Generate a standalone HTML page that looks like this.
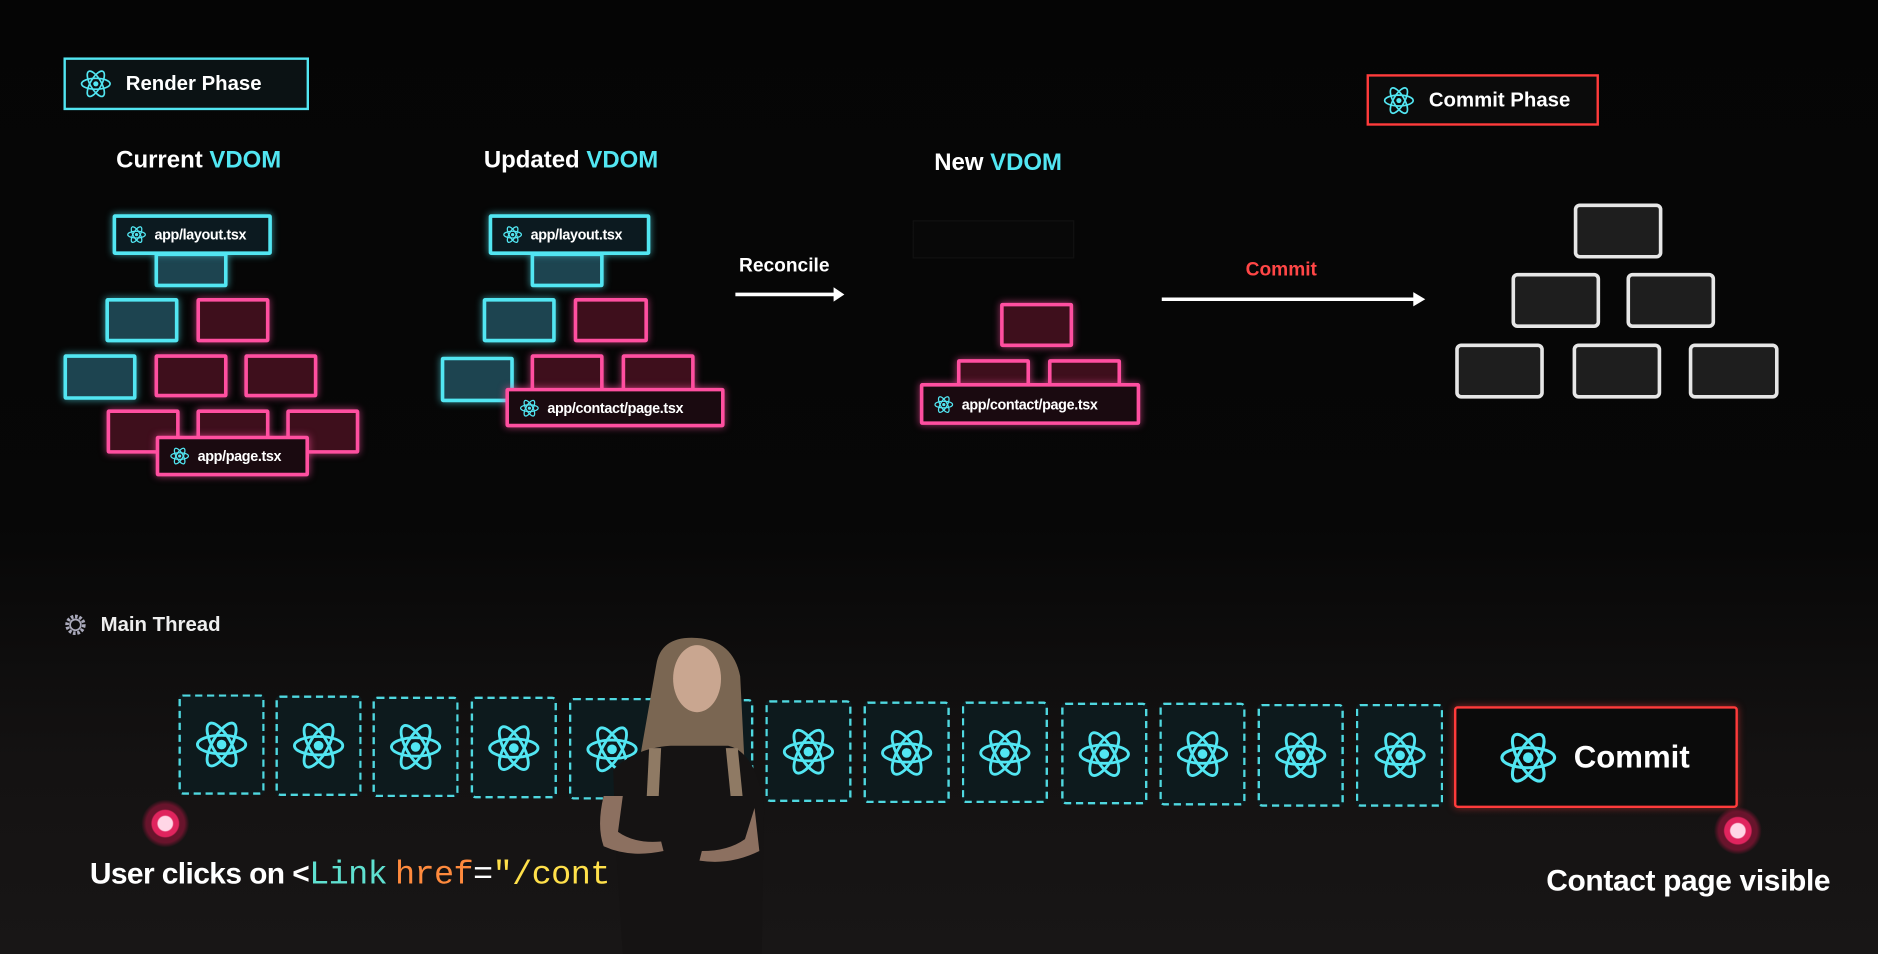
<!DOCTYPE html>
<html><head><meta charset="utf-8"><style>
html,body{margin:0;padding:0;background:#060606;overflow:hidden;width:1878px;height:954px}
#s{position:absolute;left:0;top:0;width:1568px;height:797px;transform:scale(1.19770,1.19699);transform-origin:0 0;
background:linear-gradient(#050505 0%,#070707 55%,#141212 80%,#181616 100%);font-family:"Liberation Sans",sans-serif;color:#fff}
.a{position:absolute;box-sizing:border-box}
.c{border:3px solid #52e6f2;background:#1d4450;box-shadow:0 0 6px rgba(82,230,242,.6);border-radius:2px}
.p{border:3px solid #ff4fa0;background:#3e0f1c;box-shadow:0 0 6px rgba(255,79,160,.6);border-radius:2px}
.w{border:3px solid #e6e6e6;background:#1e1e1e;border-radius:5px}
.lbl{font-weight:bold;font-size:12px;display:flex;align-items:center;gap:7px;padding-left:9px;background:#1a0a10;letter-spacing:-0.3px}
.lc{background:#0c1a20}
.t{font-weight:bold;font-size:20px;position:absolute;white-space:nowrap}
.d{border:2px dashed #4fd8e0;background:#0d1a1d;border-radius:4px;display:flex;align-items:center;justify-content:center}
.m{font-family:'Liberation Mono',monospace;font-weight:normal;font-size:28px}
</style></head><body><div id="s">

<div class="a" style="left:53px;top:48px;width:205px;height:44px;border:2px solid #52e6f2;background:#0b1214;display:flex;align-items:center;padding-left:12px;gap:12px;font-weight:bold;font-size:17px">
<svg width="26" height="26" viewBox="-12 -12 24 24"><g fill="none" stroke="#52e6f2" stroke-width="1.3"><ellipse rx="11" ry="4.2"/><ellipse rx="11" ry="4.2" transform="rotate(60)"/><ellipse rx="11" ry="4.2" transform="rotate(120)"/></g><circle r="2" fill="#52e6f2"/></svg>Render Phase</div>

<div class="a" style="left:1141px;top:62px;width:194px;height:43px;border:2px solid #ff3b3b;background:#0b0b0b;display:flex;align-items:center;padding-left:12px;gap:12px;font-weight:bold;font-size:17px">
<svg width="26" height="26" viewBox="-12 -12 24 24"><g fill="none" stroke="#52e6f2" stroke-width="1.3"><ellipse rx="11" ry="4.2"/><ellipse rx="11" ry="4.2" transform="rotate(60)"/><ellipse rx="11" ry="4.2" transform="rotate(120)"/></g><circle r="2" fill="#52e6f2"/></svg>Commit Phase</div>

<div class="t" style="left:97px;top:123px">Current <span style="color:#52e6f2">VDOM</span></div>
<div class="t" style="left:404px;top:123px">Updated <span style="color:#52e6f2">VDOM</span></div>
<div class="t" style="left:780px;top:125px">New <span style="color:#52e6f2">VDOM</span></div>

<div class="a c" style="left:129px;top:211px;width:61px;height:29px"></div>
<div class="a c lbl lc" style="left:94px;top:179px;width:133px;height:34px"><svg width="16" height="16" viewBox="-12 -12 24 24"><g fill="none" stroke="#52e6f2" stroke-width="1.6"><ellipse rx="11" ry="4.2"/><ellipse rx="11" ry="4.2" transform="rotate(60)"/><ellipse rx="11" ry="4.2" transform="rotate(120)"/></g><circle r="2" fill="#52e6f2"/></svg>app/layout.tsx</div>
<div class="a c" style="left:88px;top:249px;width:61px;height:37px"></div>
<div class="a p" style="left:164px;top:249px;width:61px;height:37px"></div>
<div class="a c" style="left:53px;top:296px;width:61px;height:38px"></div>
<div class="a p" style="left:129px;top:296px;width:61px;height:36px"></div>
<div class="a p" style="left:204px;top:296px;width:61px;height:36px"></div>
<div class="a p" style="left:89px;top:342px;width:61px;height:37px"></div>
<div class="a p" style="left:164px;top:342px;width:61px;height:30px"></div>
<div class="a p" style="left:239px;top:342px;width:61px;height:37px"></div>
<div class="a p lbl" style="left:130px;top:364px;width:128px;height:34px"><svg width="16" height="16" viewBox="-12 -12 24 24"><g fill="none" stroke="#52e6f2" stroke-width="1.6"><ellipse rx="11" ry="4.2"/><ellipse rx="11" ry="4.2" transform="rotate(60)"/><ellipse rx="11" ry="4.2" transform="rotate(120)"/></g><circle r="2" fill="#52e6f2"/></svg>app/page.tsx</div>

<div class="a c" style="left:443px;top:211px;width:61px;height:29px"></div>
<div class="a c lbl lc" style="left:408px;top:179px;width:135px;height:34px"><svg width="16" height="16" viewBox="-12 -12 24 24"><g fill="none" stroke="#52e6f2" stroke-width="1.6"><ellipse rx="11" ry="4.2"/><ellipse rx="11" ry="4.2" transform="rotate(60)"/><ellipse rx="11" ry="4.2" transform="rotate(120)"/></g><circle r="2" fill="#52e6f2"/></svg>app/layout.tsx</div>
<div class="a c" style="left:403px;top:249px;width:61px;height:37px"></div>
<div class="a p" style="left:479px;top:249px;width:62px;height:37px"></div>
<div class="a c" style="left:368px;top:298px;width:61px;height:38px"></div>
<div class="a p" style="left:443px;top:296px;width:61px;height:32px"></div>
<div class="a p" style="left:519px;top:296px;width:61px;height:32px"></div>
<div class="a p lbl" style="left:422px;top:324px;width:183px;height:33px"><svg width="16" height="16" viewBox="-12 -12 24 24"><g fill="none" stroke="#52e6f2" stroke-width="1.6"><ellipse rx="11" ry="4.2"/><ellipse rx="11" ry="4.2" transform="rotate(60)"/><ellipse rx="11" ry="4.2" transform="rotate(120)"/></g><circle r="2" fill="#52e6f2"/></svg>app/contact/page.tsx</div>

<div class="a" style="left:617px;top:214px;font-weight:bold;font-size:16px">Reconcile</div>
<svg class="a" style="left:612px;top:238px" width="96" height="16"><line x1="2" y1="8" x2="86" y2="8" stroke="#fff" stroke-width="3"/><polygon points="84,2 93,8 84,14" fill="#fff"/></svg>

<div class="a" style="left:762px;top:184px;width:135px;height:32px;border:1px solid #111;background:#080808"></div>
<div class="a p" style="left:835px;top:253px;width:61px;height:37px"></div>
<div class="a p" style="left:799px;top:300px;width:61px;height:24px"></div>
<div class="a p" style="left:875px;top:300px;width:61px;height:24px"></div>
<div class="a p lbl" style="left:768px;top:320px;width:184px;height:35px"><svg width="16" height="16" viewBox="-12 -12 24 24"><g fill="none" stroke="#52e6f2" stroke-width="1.6"><ellipse rx="11" ry="4.2"/><ellipse rx="11" ry="4.2" transform="rotate(60)"/><ellipse rx="11" ry="4.2" transform="rotate(120)"/></g><circle r="2" fill="#52e6f2"/></svg>app/contact/page.tsx</div>

<div class="a" style="left:1040px;top:217px;font-weight:bold;font-size:16px;color:#ff4646">Commit</div>
<svg class="a" style="left:968px;top:242px" width="228" height="16"><line x1="2" y1="8" x2="214" y2="8" stroke="#fff" stroke-width="3"/><polygon points="212,2 222,8 212,14" fill="#fff"/></svg>

<div class="a w" style="left:1314px;top:170px;width:74px;height:46px"></div>
<div class="a w" style="left:1262px;top:228px;width:74px;height:46px"></div>
<div class="a w" style="left:1358px;top:228px;width:74px;height:46px"></div>
<div class="a w" style="left:1215px;top:287px;width:74px;height:46px"></div>
<div class="a w" style="left:1313px;top:287px;width:74px;height:46px"></div>
<div class="a w" style="left:1410px;top:287px;width:75px;height:46px"></div>

<div class="a" style="left:53px;top:512px;display:flex;align-items:center;gap:11px;font-weight:bold;font-size:17px;color:#eee">
<svg width="20" height="20" viewBox="-10 -10 20 20"><circle r="7" fill="none" stroke="#aab" stroke-width="3" stroke-dasharray="2.2 1.4"/><circle r="4.5" fill="none" stroke="#aab" stroke-width="1.5"/></svg>Main Thread</div>

<div class="a d" style="left:149px;top:580px;width:72px;height:84px"><svg width="44" height="44" viewBox="-12 -12 24 24"><g fill="none" stroke="#52e6f2" stroke-width="1.3"><ellipse rx="11" ry="4.2"/><ellipse rx="11" ry="4.2" transform="rotate(60)"/><ellipse rx="11" ry="4.2" transform="rotate(120)"/></g><circle r="2.2" fill="#52e6f2"/></svg></div>
<div class="a d" style="left:230px;top:581px;width:72px;height:84px"><svg width="44" height="44" viewBox="-12 -12 24 24"><g fill="none" stroke="#52e6f2" stroke-width="1.3"><ellipse rx="11" ry="4.2"/><ellipse rx="11" ry="4.2" transform="rotate(60)"/><ellipse rx="11" ry="4.2" transform="rotate(120)"/></g><circle r="2.2" fill="#52e6f2"/></svg></div>
<div class="a d" style="left:311px;top:582px;width:72px;height:84px"><svg width="44" height="44" viewBox="-12 -12 24 24"><g fill="none" stroke="#52e6f2" stroke-width="1.3"><ellipse rx="11" ry="4.2"/><ellipse rx="11" ry="4.2" transform="rotate(60)"/><ellipse rx="11" ry="4.2" transform="rotate(120)"/></g><circle r="2.2" fill="#52e6f2"/></svg></div>
<div class="a d" style="left:393px;top:582px;width:72px;height:85px"><svg width="44" height="44" viewBox="-12 -12 24 24"><g fill="none" stroke="#52e6f2" stroke-width="1.3"><ellipse rx="11" ry="4.2"/><ellipse rx="11" ry="4.2" transform="rotate(60)"/><ellipse rx="11" ry="4.2" transform="rotate(120)"/></g><circle r="2.2" fill="#52e6f2"/></svg></div>
<div class="a d" style="left:475px;top:583px;width:72px;height:85px"><svg width="44" height="44" viewBox="-12 -12 24 24"><g fill="none" stroke="#52e6f2" stroke-width="1.3"><ellipse rx="11" ry="4.2"/><ellipse rx="11" ry="4.2" transform="rotate(60)"/><ellipse rx="11" ry="4.2" transform="rotate(120)"/></g><circle r="2.2" fill="#52e6f2"/></svg></div>
<div class="a d" style="left:557px;top:584px;width:72px;height:85px"></div>
<div class="a d" style="left:639px;top:585px;width:72px;height:85px"><svg width="44" height="44" viewBox="-12 -12 24 24"><g fill="none" stroke="#52e6f2" stroke-width="1.3"><ellipse rx="11" ry="4.2"/><ellipse rx="11" ry="4.2" transform="rotate(60)"/><ellipse rx="11" ry="4.2" transform="rotate(120)"/></g><circle r="2.2" fill="#52e6f2"/></svg></div>
<div class="a d" style="left:721px;top:586px;width:72px;height:85px"><svg width="44" height="44" viewBox="-12 -12 24 24"><g fill="none" stroke="#52e6f2" stroke-width="1.3"><ellipse rx="11" ry="4.2"/><ellipse rx="11" ry="4.2" transform="rotate(60)"/><ellipse rx="11" ry="4.2" transform="rotate(120)"/></g><circle r="2.2" fill="#52e6f2"/></svg></div>
<div class="a d" style="left:803px;top:586px;width:72px;height:85px"><svg width="44" height="44" viewBox="-12 -12 24 24"><g fill="none" stroke="#52e6f2" stroke-width="1.3"><ellipse rx="11" ry="4.2"/><ellipse rx="11" ry="4.2" transform="rotate(60)"/><ellipse rx="11" ry="4.2" transform="rotate(120)"/></g><circle r="2.2" fill="#52e6f2"/></svg></div>
<div class="a d" style="left:886px;top:587px;width:72px;height:85px"><svg width="44" height="44" viewBox="-12 -12 24 24"><g fill="none" stroke="#52e6f2" stroke-width="1.3"><ellipse rx="11" ry="4.2"/><ellipse rx="11" ry="4.2" transform="rotate(60)"/><ellipse rx="11" ry="4.2" transform="rotate(120)"/></g><circle r="2.2" fill="#52e6f2"/></svg></div>
<div class="a d" style="left:968px;top:587px;width:72px;height:86px"><svg width="44" height="44" viewBox="-12 -12 24 24"><g fill="none" stroke="#52e6f2" stroke-width="1.3"><ellipse rx="11" ry="4.2"/><ellipse rx="11" ry="4.2" transform="rotate(60)"/><ellipse rx="11" ry="4.2" transform="rotate(120)"/></g><circle r="2.2" fill="#52e6f2"/></svg></div>
<div class="a d" style="left:1050px;top:588px;width:72px;height:86px"><svg width="44" height="44" viewBox="-12 -12 24 24"><g fill="none" stroke="#52e6f2" stroke-width="1.3"><ellipse rx="11" ry="4.2"/><ellipse rx="11" ry="4.2" transform="rotate(60)"/><ellipse rx="11" ry="4.2" transform="rotate(120)"/></g><circle r="2.2" fill="#52e6f2"/></svg></div>
<div class="a d" style="left:1132px;top:588px;width:73px;height:86px"><svg width="44" height="44" viewBox="-12 -12 24 24"><g fill="none" stroke="#52e6f2" stroke-width="1.3"><ellipse rx="11" ry="4.2"/><ellipse rx="11" ry="4.2" transform="rotate(60)"/><ellipse rx="11" ry="4.2" transform="rotate(120)"/></g><circle r="2.2" fill="#52e6f2"/></svg></div>

<div class="a" style="left:1214px;top:590px;width:237px;height:85px;border:2px solid #ff3b3b;box-shadow:0 0 6px rgba(255,59,59,.5);border-radius:3px;background:#0b0b0b;display:flex;align-items:center;padding-left:36px;gap:14px;font-weight:bold;font-size:26px">
<svg width="48" height="48" viewBox="-12 -12 24 24"><g fill="none" stroke="#52e6f2" stroke-width="1.3"><ellipse rx="11" ry="4.2"/><ellipse rx="11" ry="4.2" transform="rotate(60)"/><ellipse rx="11" ry="4.2" transform="rotate(120)"/></g><circle r="2.2" fill="#52e6f2"/></svg>Commit</div>

<div class="a" style="left:118px;top:668px;width:40px;height:40px;border-radius:50%;background:radial-gradient(circle,#ffd6e6 0 6px,#e0245e 7px 11px,rgba(160,20,60,.6) 12px 16px,rgba(80,10,30,0) 20px)"></div>
<div class="a" style="left:1431px;top:674px;width:40px;height:40px;border-radius:50%;background:radial-gradient(circle,#ffd6e6 0 6px,#e0245e 7px 11px,rgba(160,20,60,.6) 12px 16px,rgba(80,10,30,0) 20px)"></div>

<div class="a" style="left:75px;top:716px;font-size:25px;font-weight:bold;white-space:nowrap;letter-spacing:-0.5px">User clicks on &lt;<span class="m" style="color:#5fe0d0">Link</span> <span class="m" style="color:#ff8a3d">href</span><span class="m">=</span><span class="m" style="color:#ffe04a">"/cont</span></div>
<div class="a" style="left:1291px;top:722px;font-size:25px;font-weight:bold;white-space:nowrap;letter-spacing:-0.3px">Contact page visible</div>

<svg class="a" style="left:490px;top:525px" width="160" height="272" viewBox="0 0 160 272">
<path d="M58 30 Q62 6 92 8 Q122 10 128 40 L132 120 L122 130 L50 130 L44 110 Z" fill="#7a6652"/>
<ellipse cx="92" cy="42" rx="20" ry="28" fill="#c9a690"/>
<path d="M22 118 Q40 100 70 98 L118 98 Q142 104 148 150 L146 272 L30 272 L24 180 Z" fill="#151313"/>
<path d="M52 100 L62 100 L60 140 L50 140 Z" fill="#8f7a64"/>
<path d="M116 100 L126 100 L130 140 L120 140 Z" fill="#8f7a64"/>
<path d="M14 140 Q8 165 14 182 Q36 192 64 186 L62 178 Q40 180 26 170 L30 140 Z" fill="#8c7060"/>
<path d="M140 150 L144 186 Q120 198 94 194 L96 186 Q118 186 132 176 Z" fill="#8c7060"/>
</svg>

</div></body></html>
